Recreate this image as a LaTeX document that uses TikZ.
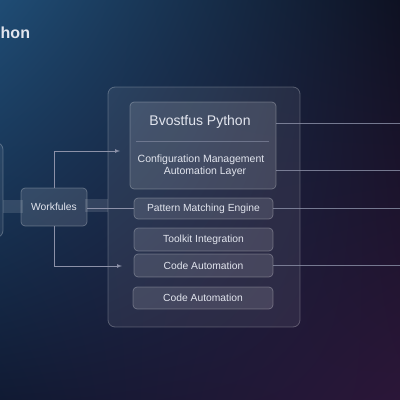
\documentclass[tikz,border=0pt]{standalone}
\usepackage{fontspec}
\setmainfont{Liberation Sans}
\usetikzlibrary{calc,shadings}

\definecolor{bgtl}{HTML}{1F4C74}
\definecolor{bgtr}{HTML}{0E1122}
\definecolor{bgbl}{HTML}{101A33}
\definecolor{bgbr}{HTML}{2B1638}
\definecolor{txt}{HTML}{E2E5EE}
\definecolor{wire}{HTML}{8C91A8}

\begin{document}
\begin{tikzpicture}[x=1pt, y=-1pt,
	panel/.style={draw=white, draw opacity=0.25, fill=white, fill opacity=0.07, text opacity=1, rounded corners=7pt, line width=0.8pt},
	box/.style={draw=white, draw opacity=0.28, fill=white, fill opacity=0.12, text opacity=1, rounded corners=4pt, line width=0.7pt, text=txt, font=\fontsize{10.3}{12}\selectfont},
	band/.style={white, opacity=0.12, line width=13pt},
	conn/.style={draw=wire, line width=0.7pt},
	outline/.style={draw=wire, draw opacity=0.8, line width=0.8pt}]

	\useasboundingbox (0,0) rectangle (400,400);
	\shade[upper left=bgtl, upper right=bgtr, lower left=bgbl, lower right=bgbr] (0,0) rectangle (400,400);

	\node[anchor=west, inner sep=0pt, text=txt, font=\fontsize{16}{20}\bfseries\selectfont] (title) at (0.5,33) {hon};

	\node[panel, minimum width=14pt, minimum height=95pt] (leftbox) at (-4,190) {};
	\node[panel, minimum width=192pt, minimum height=240pt] (main) at (204,207) {};

	\draw[band] (leftbox.east |- 0,206) -- (23,206);
	\draw[band] (85,205) -- (main.west |- 0,205);

	\node[box, minimum width=66pt, minimum height=38pt] (work) at (54,207) {Workfules};

	\node[box, minimum width=146pt, minimum height=87pt] (core) at (203,145.5) {};
	\node[text=txt, font=\fontsize{14}{16}\selectfont] (coretitle) at (200,122) {Bvostfus Python};
	\draw[conn, draw opacity=0.6] (136,141) -- (269,141);
	\node[text=txt, font=\fontsize{10.5}{12}\selectfont, align=center] (corelayer) at (201,166) {Configuration Management\\\hspace*{8pt}Automation Layer};

	\node[box, minimum width=139pt, minimum height=21pt] (pme) at (203.5,208.5) {Pattern Matching Engine};
	\node[box, minimum width=139pt, minimum height=23pt] (toolkit) at (203.5,239.5) {Toolkit Integration};
	\node[box, minimum width=139pt, minimum height=23pt] (codeA) at (203.5,265.5) {Code Automation};
	\node[box, minimum width=140pt, minimum height=22pt] (codeB) at (203,298) {Code Automation};

	\coordinate (in1) at (120,151);
	\coordinate (in2) at (122,266);
	\draw[conn, ->, >=latex] (work.north) |- (in1);
	\draw[conn, ->, >=latex] (work.south) |- (in2);
	\draw[conn] (work.east |- pme.west) -- (pme.west);

	\coordinate (out1) at (400,123);
	\coordinate (out2) at (400,170);
	\draw[outline] (core.east |- out1) -- (out1);
	\draw[outline] (core.east |- out2) -- (out2);
	\draw[outline] (pme.east) -- (pme.east -| out1);
	\draw[outline] (codeA.east) -- (codeA.east -| out1);

\end{tikzpicture}
\end{document}
